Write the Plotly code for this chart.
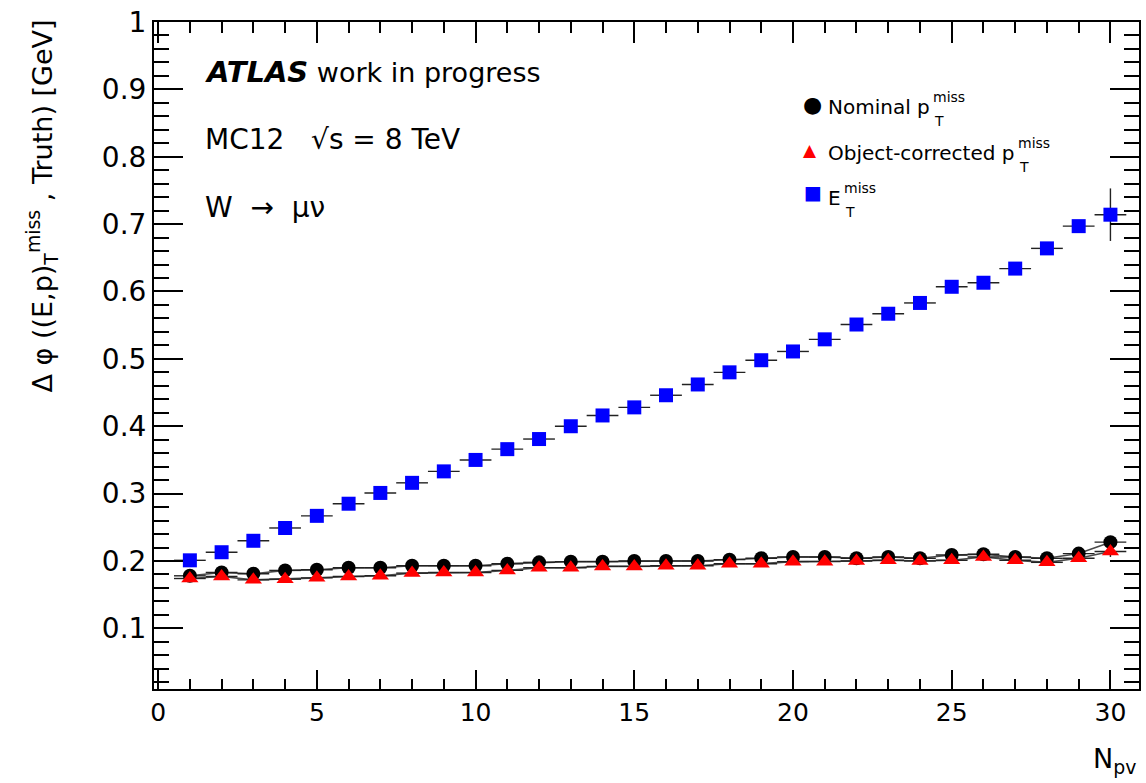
import plotly.graph_objects as go

# Number of reconstructed primary vertices (bin centres)
npv = list(range(1, 31))

# Mean delta-phi with respect to truth, per N_pv bin
nominal_pt = [0.178, 0.183, 0.181, 0.186, 0.187, 0.190, 0.190, 0.193, 0.193, 0.193,
              0.196, 0.198, 0.199, 0.199, 0.200, 0.200, 0.200, 0.202, 0.204, 0.206,
              0.206, 0.204, 0.206, 0.204, 0.209, 0.210, 0.206, 0.204, 0.211, 0.228]
corrected_pt = [0.174, 0.177, 0.172, 0.173, 0.175, 0.177, 0.178, 0.182, 0.183, 0.183,
                0.186, 0.190, 0.190, 0.192, 0.192, 0.193, 0.193, 0.196, 0.196, 0.199,
                0.199, 0.200, 0.201, 0.200, 0.201, 0.206, 0.201, 0.198, 0.204, 0.214]
et_miss = [0.201, 0.213, 0.230, 0.249, 0.267, 0.285, 0.301, 0.316, 0.333, 0.350,
           0.366, 0.381, 0.400, 0.416, 0.428, 0.446, 0.462, 0.480, 0.498, 0.511,
           0.529, 0.551, 0.567, 0.583, 0.607, 0.613, 0.634, 0.664, 0.697, 0.714]

# Statistical uncertainties
nominal_err = [0.002] * 29 + [0.008]
corrected_err = [0.002] * 29 + [0.008]
et_err = [0.002] * 28 + [0.008, 0.039]

bin_half_width = 0.5

y_ticks = [0.1, 0.2, 0.3, 0.4, 0.5, 0.6, 0.7, 0.8, 0.9, 1.0]
y_tick_text = ["0.1", "0.2", "0.3", "0.4", "0.5", "0.6", "0.7", "0.8", "0.9", "1"]
x_ticks = [0, 5, 10, 15, 20, 25, 30]
x_tick_text = ["0", "5", "10", "15", "20", "25", "30"]

FONT = "DejaVu Sans"
X_RANGE = [-0.13, 30.9]
Y_RANGE = [0.01, 1.0]

fig = go.Figure()

# connecting lines for the track-based curves
for vals in (nominal_pt, corrected_pt):
    fig.add_trace(go.Scatter(
        x=npv, y=vals, mode="lines",
        line=dict(color="#4a4a4a", width=1.6),
        hoverinfo="skip", showlegend=False,
    ))

err_x = dict(type="constant", value=bin_half_width, color="#222222", thickness=1.4, width=0)

fig.add_trace(go.Scatter(
    x=npv, y=nominal_pt, mode="markers", name="Nominal",
    marker=dict(symbol="circle", size=14, color="black"),
    error_x=err_x,
    error_y=dict(type="data", array=nominal_err, color="#222222", thickness=1.4, width=0),
    showlegend=False,
))
fig.add_trace(go.Scatter(
    x=npv, y=corrected_pt, mode="markers", name="Object-corrected",
    marker=dict(symbol="triangle-up", size=15, color="#ff0000"),
    error_x=err_x,
    error_y=dict(type="data", array=corrected_err, color="#222222", thickness=1.4, width=0),
    showlegend=False,
))
fig.add_trace(go.Scatter(
    x=npv, y=et_miss, mode="markers", name="ETmiss",
    marker=dict(symbol="square", size=14, color="#0000ff"),
    error_x=err_x,
    error_y=dict(type="data", array=et_err, color="#222222", thickness=1.4, width=0),
    showlegend=False,
))

axis_common = dict(showgrid=False, zeroline=False, showline=True,
                   linecolor="black", linewidth=2, ticks="inside",
                   tickcolor="black", tickwidth=1.5)

fig.update_layout(
    width=1146, height=783,
    margin=dict(l=154, r=7, t=22, b=94),
    paper_bgcolor="white", plot_bgcolor="white",
    font=dict(family=FONT, color="black"),
    xaxis=dict(**axis_common, range=X_RANGE, tickvals=x_ticks, ticktext=x_tick_text,
               ticklen=19, tickfont=dict(size=25, family=FONT),
               minor=dict(dtick=1, tick0=0, ticklen=10, ticks="inside",
                          tickcolor="black", tickwidth=1.5)),
    yaxis=dict(**axis_common, range=Y_RANGE, tickvals=y_ticks, ticktext=y_tick_text,
               ticklen=29, tickfont=dict(size=28, family=FONT),
               minor=dict(dtick=0.02, tick0=0, ticklen=15, ticks="inside",
                          tickcolor="black", tickwidth=1.5)),
    xaxis2=dict(**axis_common, overlaying="x", side="top", anchor="y", range=X_RANGE,
                tickvals=x_ticks, showticklabels=False, ticklen=21,
                minor=dict(dtick=1, tick0=0, ticklen=11, ticks="inside",
                           tickcolor="black", tickwidth=1.5)),
    yaxis2=dict(**axis_common, overlaying="y", side="right", anchor="x", range=Y_RANGE,
                tickvals=y_ticks, showticklabels=False, ticklen=29,
                minor=dict(dtick=0.02, tick0=0, ticklen=15, ticks="inside",
                           tickcolor="black", tickwidth=1.5)),
)

# invisible trace so the mirrored axes are drawn
fig.add_trace(go.Scatter(x=[X_RANGE[0]], y=[Y_RANGE[0]], xaxis="x2", yaxis="y2",
                         mode="markers", marker=dict(opacity=0), showlegend=False,
                         hoverinfo="skip"))


def px_x(px):
    return (px - 154) / 985.0


def px_y(py):
    return (689 - py) / 667.0


def label(xp, yp, text, size, color="black"):
    return dict(x=px_x(xp), y=px_y(yp), text=text, font=dict(size=size, color=color),
                xref="paper", yref="paper", xanchor="left", yanchor="middle",
                showarrow=False)


LEG_SIZE = 20
SCRIPT_SIZE = 14
annotations = [
    label(203, 72, "<span style='font-size:29px'><b><i>ATLAS</i></b></span> work in progress", 27),
    label(203, 140, "MC12   √s = 8 TeV", 28),
    label(203, 208, "W  →  μν", 28),
    # legend symbols
    label(801, 104, "●", 22),
    label(801, 150, "▲", 17, "#ff0000"),
    label(802, 192, "■", 19, "#0000ff"),
]

# legend entries: body text followed by a stacked sub/superscript
legend_rows = [
    (104, "Nominal p", 928),
    (150, "Object-corrected p", 1013),
    (195, "E", 839),
]
for yc, body, script_x in legend_rows:
    annotations.append(label(826, yc + 3, body, LEG_SIZE))
    annotations.append(label(script_x + 3, yc - 7, "miss", SCRIPT_SIZE))
    annotations.append(label(script_x + 4, yc + 17, "T", SCRIPT_SIZE))

# axis titles
annotations.append(dict(
    x=px_x(1138), y=px_y(760), xref="paper", yref="paper", xanchor="right",
    yanchor="middle", showarrow=False, text="N<sub>pv</sub>", font=dict(size=27)))
annotations.append(dict(
    x=px_x(42), y=1.006, xref="paper", yref="paper", xanchor="center",
    yanchor="top", showarrow=False, textangle=-90,
    text="Δ φ ((E,p)<sub>T</sub><sup>miss</sup> , Truth) [GeV]", font=dict(size=27)))

fig.update_layout(annotations=annotations)

fig.write_html("out.html")
